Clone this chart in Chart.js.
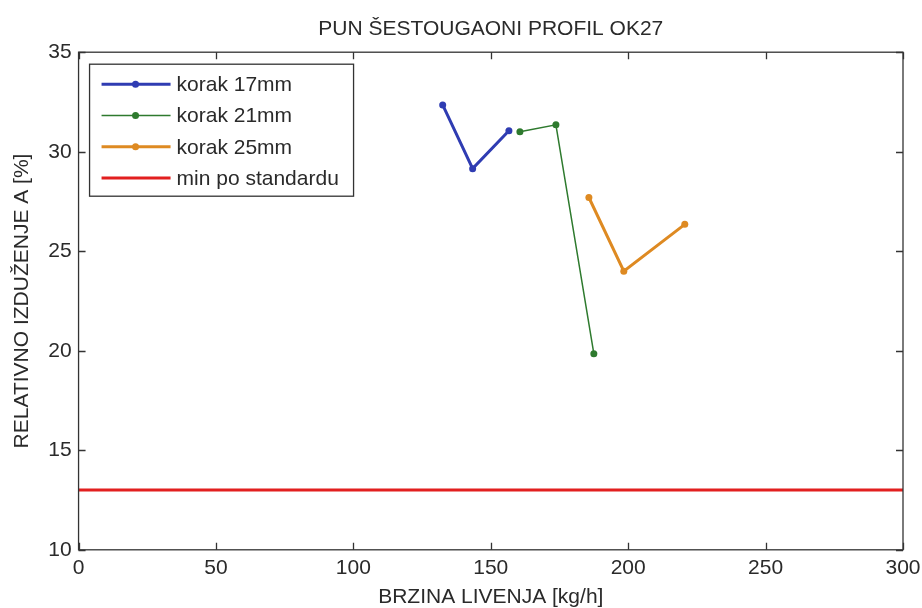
<!DOCTYPE html>
<html>
<head>
<meta charset="utf-8">
<script src="https://cdn.jsdelivr.net/npm/chart.js@4.4.0/dist/chart.umd.min.js"></script>
<style>
  html, body { margin: 0; padding: 0; background: #fff; }
  #wrap { width: 922px; height: 608px; }
</style>
</head>
<body>
<div id="wrap"><canvas id="chart" width="922" height="608"></canvas></div>
<script>
// podaci ocitani sa grafika
const korak17X = [132.5, 143.4, 156.6];
const korak17Y = [32.35, 29.15, 31.05];
const korak21X = [160.6, 173.7, 187.5];
const korak21Y = [31.0, 31.35, 19.85];
const korak25X = [185.7, 198.4, 220.6];
const korak25Y = [27.7, 24.0, 26.35];
const minStandardX = [0, 300];
const minStandardY = [13, 13];
const xTicks = [0, 50, 100, 150, 200, 250, 300];
const yTicks = [10, 15, 20, 25, 30, 35];

const FONT = "'Liberation Sans', Arial, sans-serif";
const TEXT = '#2a2a2a';

function toPoints(xs, ys) {
    return xs.map((x, i) => ({ x: x, y: ys[i] }));
}

// okvir i unutrasnji podeoci (MATLAB stil)
const boxPlugin = {
    id: 'boxTicks',
    afterDraw(chart) {
        const { ctx, chartArea: a, scales } = chart;
        ctx.save();
        ctx.strokeStyle = '#333';
        ctx.lineWidth = 1.3;
        ctx.strokeRect(a.left, a.top, a.right - a.left, a.bottom - a.top);
        const len = 7;
        ctx.beginPath();
        xTicks.forEach(v => {
            const px = Math.round(scales.x.getPixelForValue(v)) + 0.5;
            ctx.moveTo(px, a.bottom); ctx.lineTo(px, a.bottom - len);
            ctx.moveTo(px, a.top); ctx.lineTo(px, a.top + len);
        });
        yTicks.forEach(v => {
            const py = Math.round(scales.y.getPixelForValue(v)) + 0.5;
            ctx.moveTo(a.left, py); ctx.lineTo(a.left + len, py);
            ctx.moveTo(a.right, py); ctx.lineTo(a.right - len, py);
        });
        ctx.stroke();

        // legenda
        const lx = a.left + 11, ly = a.top + 12, lw = 264, lh = 132;
        ctx.fillStyle = '#fff';
        ctx.fillRect(lx, ly, lw, lh);
        ctx.strokeStyle = '#333';
        ctx.lineWidth = 1.3;
        ctx.strokeRect(lx, ly, lw, lh);
        ctx.font = '21px ' + FONT;
        ctx.textBaseline = 'middle';
        chart.data.datasets.forEach((ds, i) => {
            const y = ly + 20 + i * 31.3;
            ctx.strokeStyle = ds.borderColor;
            ctx.lineWidth = ds.borderWidth;
            ctx.beginPath();
            ctx.moveTo(lx + 12, y); ctx.lineTo(lx + 81, y);
            ctx.stroke();
            if (ds.pointRadius > 0) {
                ctx.fillStyle = ds.borderColor;
                ctx.beginPath();
                ctx.arc(lx + 46, y, ds.pointRadius, 0, Math.PI * 2);
                ctx.fill();
            }
            ctx.fillStyle = TEXT;
            ctx.fillText(ds.label, lx + 87, y + 1);
        });
        ctx.restore();
    }
};

new Chart(document.getElementById('chart'), {
    type: 'line',
    data: {
        datasets: [
            {
                label: 'korak 17mm',
                data: toPoints(korak17X, korak17Y),
                borderColor: '#2f3cb2',
                backgroundColor: '#2f3cb2',
                borderWidth: 3,
                pointRadius: 3.5,
                pointBorderWidth: 0
            },
            {
                label: 'korak 21mm',
                data: toPoints(korak21X, korak21Y),
                borderColor: '#2e7a2e',
                backgroundColor: '#2e7a2e',
                borderWidth: 1.5,
                pointRadius: 3.5,
                pointBorderWidth: 0
            },
            {
                label: 'korak 25mm',
                data: toPoints(korak25X, korak25Y),
                borderColor: '#de8a22',
                backgroundColor: '#de8a22',
                borderWidth: 3,
                pointRadius: 3.5,
                pointBorderWidth: 0
            },
            {
                label: 'min po standardu',
                data: toPoints(minStandardX, minStandardY),
                borderColor: '#e21f1f',
                backgroundColor: '#e21f1f',
                borderWidth: 3,
                pointRadius: 0
            }
        ]
    },
    options: {
        responsive: false,
        animation: false,
        layout: { padding: { left: 10, right: 0, top: 9, bottom: 0 } },
        plugins: {
            legend: { display: false },
            tooltip: { enabled: false },
            title: {
                display: true,
                fullSize: false,
                text: 'PUN ŠESTOUGAONI PROFIL OK27',
                color: TEXT,
                font: { family: FONT, size: 21, weight: 'normal' },
                padding: { top: 8, bottom: 10 }
            }
        },
        scales: {
            x: {
                type: 'linear',
                min: 0,
                max: 300,
                afterBuildTicks: s => { s.ticks = xTicks.map(v => ({ value: v })); },
                afterFit: s => { s.paddingRight = 19; },
                grid: { display: false, drawTicks: false },
                border: { display: false },
                ticks: {
                    color: TEXT,
                    padding: 6,
                    maxRotation: 0,
                    font: { family: FONT, size: 21 }
                },
                title: {
                    display: true,
                    text: 'BRZINA LIVENJA [kg/h]',
                    color: TEXT,
                    font: { family: FONT, size: 21, lineHeight: 1 },
                    padding: { top: 0, bottom: 0 }
                }
            },
            y: {
                type: 'linear',
                min: 10,
                max: 35,
                afterBuildTicks: s => { s.ticks = yTicks.map(v => ({ value: v })); },
                grid: { display: false, drawTicks: false },
                border: { display: false },
                ticks: {
                    color: TEXT,
                    padding: 7,
                    font: { family: FONT, size: 21 }
                },
                title: {
                    display: true,
                    text: 'RELATIVNO IZDUŽENJE A [%]',
                    color: TEXT,
                    font: { family: FONT, size: 21 },
                    padding: { top: 0, bottom: 6 }
                }
            }
        }
    },
    plugins: [boxPlugin]
});
</script>
</body>
</html>
